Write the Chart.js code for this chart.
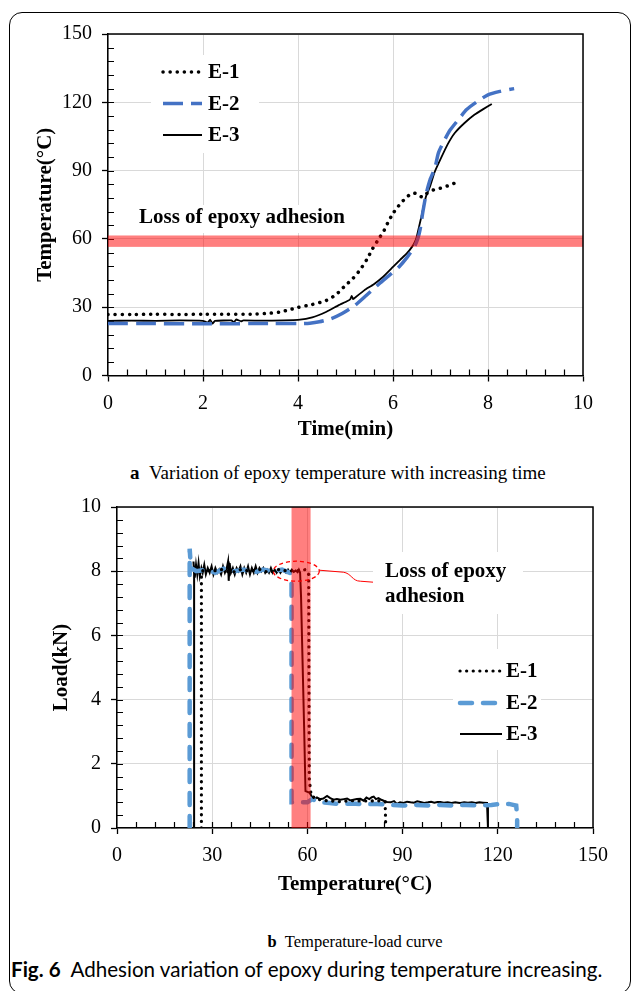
<!DOCTYPE html>
<html>
<head>
<meta charset="utf-8">
<script src="https://cdn.jsdelivr.net/npm/chart.js@4.4.0/dist/chart.umd.min.js"></script>
<style>
  html, body { margin: 0; padding: 0; background: #fff; }
  body { width: 632px; height: 991px; position: relative; overflow: hidden; }
  #frame { position: absolute; left: 9px; top: 12px; width: 622px; height: 982px; border: 1px solid #000; border-radius: 13px; box-sizing: border-box; }
  #w1 { position: absolute; left: 0; top: 0; width: 632px; height: 450px; }
  #w2 { position: absolute; left: 0; top: 485px; width: 632px; height: 415px; }
  .cap { position: absolute; font-family: "Liberation Serif", "Times New Roman", serif; font-size: 19px; line-height: 22px; color: #000; white-space: nowrap; }
  #capA { left: 130px; top: 462px; }
  #capB { left: 0; width: 710px; text-align: center; top: 931px; font-size: 16.5px; }
  #fig { position: absolute; left: 11px; top: 957px; font-family: Lato, "Open Sans", sans-serif; font-size: 20.6px; line-height: 24px; color: #000; white-space: nowrap; }
  #fig b { font-weight: 700; }
</style>
</head>
<body>
<div id="frame"></div>
<div id="w1"><canvas id="c1" width="632" height="450"></canvas></div>
<div id="w2"><canvas id="c2" width="632" height="415"></canvas></div>
<div class="cap" id="capA"><b>a</b>&nbsp;&nbsp;Variation of epoxy temperature with increasing time</div>
<div class="cap" id="capB"><b>b</b>&nbsp;&nbsp;Temperature-load curve</div>
<div id="fig"><b>Fig. 6</b>&nbsp;&nbsp;Adhesion variation of epoxy during temperature increasing.</div>
<script>
// ---------------- DATA: (a) temperature vs time ----------------
const seriesNames = ['E-1', 'E-2', 'E-3'];

const e1Time = [0, 0.5, 1.0, 1.5, 2.0, 2.5, 3.0, 3.3, 3.6, 3.8, 4.0, 4.3, 4.6, 4.8, 5.0, 5.15, 5.3, 5.45, 5.57, 5.7, 5.8, 5.9, 6.0, 6.1, 6.2, 6.3, 6.4, 6.5, 6.6, 6.7, 6.85, 7.0, 7.15, 7.3];
const e1Temp = [26.8, 26.8, 26.9, 26.8, 26.9, 26.9, 26.9, 27.2, 27.8, 28.8, 29.9, 31.2, 33.0, 35.5, 39.6, 42.5, 46.2, 51.0, 55.7, 60.0, 63.2, 67.5, 71.2, 74.0, 76.5, 78.5, 80.2, 79.8, 78.5, 79.8, 81.5, 82.3, 83.3, 84.5];

const e2Time = [0, 1, 2, 3, 3.5, 4.0, 4.25, 4.45, 4.7, 4.93, 5.2, 5.43, 5.71, 5.95, 6.13, 6.3, 6.45, 6.52, 6.57, 6.63, 6.7, 6.78, 6.88, 6.96, 7.1, 7.21, 7.4, 7.55, 7.75, 8.0, 8.25, 8.55];
const e2Temp = [22.8, 22.8, 22.7, 22.8, 22.8, 22.8, 23.0, 23.6, 25.0, 27.2, 30.8, 35.0, 40.3, 44.5, 47.8, 52.0, 56.5, 60.0, 64.0, 72.0, 80.0, 86.0, 91.0, 98.0, 104.0, 108.0, 113.0, 116.8, 120.0, 123.3, 124.8, 126.0];

const e3Time = [0, 0.5, 1.0, 1.5, 2.0, 2.1, 2.15, 2.2, 2.25, 2.6, 2.65, 2.7, 2.8, 2.85, 3.2, 3.7, 4.0, 4.3, 4.6, 4.85, 5.03, 5.1, 5.13, 5.16, 5.2, 5.4, 5.59, 5.8, 6.0, 6.15, 6.29, 6.4, 6.46, 6.5, 6.55, 6.6, 6.64, 6.7, 6.78, 6.87, 7.0, 7.15, 7.3, 7.5, 7.72, 7.9, 8.08];
const e3Temp = [24.0, 24.1, 24.0, 24.2, 24.0, 23.2, 24.5, 22.8, 24.0, 24.2, 23.3, 24.6, 23.8, 24.2, 24.1, 24.2, 24.4, 25.5, 28.0, 30.8, 32.6, 33.5, 35.0, 33.5, 34.2, 37.5, 40.0, 43.5, 47.7, 50.8, 53.6, 56.5, 58.7, 61.0, 65.5, 70.0, 74.0, 79.0, 83.0, 89.0, 95.0, 101.5, 106.5, 110.8, 114.6, 117.0, 119.3];

const timeTicks = [0, 2, 4, 6, 8, 10];
const tempTicks = [0, 30, 60, 90, 120, 150];
const lossBandTemp = [56.5, 61.5];   // red band, °C

// ---------------- DATA: (b) load vs temperature ----------------
const b1Temp = [26.6, 26.6, 26.6, 27.2, 30, 33, 36, 39, 42, 45, 48, 51, 54, 57, 59.5, 60.4, 60.5, 60.6, 61.2, 63, 66, 70, 74, 78, 82, 84.5, 84.6, 84.7];
const b1Load = [0, 4, 7.9, 8.05, 8.0, 8.05, 7.95, 8.05, 8.0, 8.05, 7.95, 8.05, 8.0, 8.02, 8.05, 7.9, 4.5, 1.5, 1.0, 0.9, 0.85, 0.82, 0.85, 0.84, 0.85, 0.82, 0.4, 0];

const b2Temp = [22.9, 22.9, 22.9, 23.3, 25, 28, 31, 34, 37, 40, 43, 46, 49, 52, 54.5, 55.0, 55.0, 55.0, 60.0, 61.5, 64, 67, 70, 74, 78, 82, 86, 90, 94, 98, 102, 106, 110, 114, 118, 121, 123.5, 125.8, 126.1, 126.1];
const b2Load = [0, 4, 8.7, 8.1, 8.0, 8.05, 7.95, 8.1, 8.0, 8.05, 7.95, 8.05, 8.0, 8.05, 7.95, 7.6, 4, 0.8, 0.8, 0.9, 0.8, 0.78, 0.75, 0.76, 0.74, 0.75, 0.72, 0.7, 0.72, 0.7, 0.72, 0.7, 0.72, 0.7, 0.72, 0.75, 0.75, 0.7, 0.35, 0];

const b3Temp = [24.3, 24.3, 24.3, 24.1, 24.5, 24.9, 25.3, 25.7, 26.1, 26.6,
  27.0, 27.5, 28.0, 28.6, 29.2, 29.8, 30.4, 31.0, 31.6, 32.2,
  32.8, 33.4, 34.0, 34.6, 35.0, 35.2, 35.5, 35.9, 36.5, 37.1,
  37.7, 38.3, 38.9, 39.5, 40.1, 40.7, 41.3, 41.9, 42.5, 43.1,
  43.7, 44.3, 44.9, 45.5, 46.1, 46.7, 47.3, 47.9, 48.5, 49.1,
  49.7, 50.3, 50.9, 51.5, 52.1, 52.7, 53.3, 53.9, 54.5, 55.1,
  55.7, 56.3, 56.9, 57.3, 57.7, 58.0, 58.4, 59.0, 59.4, 60.6,
  61.0, 61.9, 63.0, 64.0, 65.0, 66.2, 67.2, 68.3, 69.3, 70.4,
  71.5, 72.5, 73.5, 74.5, 75.6, 76.7, 77.7, 78.6, 79.5, 80.3,
  80.9, 81.6, 82.4, 83.3, 84.2, 85.1, 86.2, 87.3, 88.2, 89.2,
  90.3, 91.4, 92.5, 93.6, 94.6, 95.6, 96.8, 98.0, 99.0, 100.0,
  101.0, 101.9, 103.0, 104.2, 105.4, 106.6, 107.5, 108.2, 109.4, 110.6,
  111.8, 113.0, 114.2, 115.4, 116.6, 116.9, 116.9];
const b3Load = [0, 4.0, 7.9, 8.3, 7.8, 8.2, 7.9, 8.25, 7.85, 8.1,
  7.95, 8.2, 7.9, 8.1, 7.95, 8.15, 7.9, 8.1, 7.95, 8.05,
  7.9, 8.15, 7.95, 8.1, 8.3, 7.7, 8.25, 7.95, 8.1, 7.9,
  8.1, 8.0, 8.15, 7.9, 8.1, 7.95, 8.15, 7.9, 8.1, 7.95,
  8.15, 7.95, 8.1, 8.0, 8.1, 7.95, 8.05, 7.95, 8.1, 7.95,
  8.05, 7.95, 8.05, 7.95, 8.05, 8.0, 7.95, 8.05, 7.95, 8.05,
  7.98, 8.02, 7.97, 8.05, 7.95, 7.2, 5.5, 3.0, 1.15, 1.1,
  1.05, 0.87, 0.95, 0.9, 0.92, 1.0, 0.93, 0.88, 0.9, 0.88,
  0.9, 0.92, 0.86, 0.88, 0.9, 0.91, 0.85, 0.95, 0.9, 0.96,
  0.98, 0.9, 0.93, 0.88, 0.84, 0.81, 0.8, 0.84, 0.75, 0.8,
  0.78, 0.82, 0.8, 0.79, 0.83, 0.81, 0.78, 0.8, 0.82, 0.79,
  0.81, 0.81, 0.79, 0.8, 0.78, 0.8, 0.79, 0.78, 0.8, 0.79,
  0.8, 0.78, 0.8, 0.79, 0.78, 0.3, 0];

const loadTempTicks = [0, 30, 60, 90, 120, 150];
const loadTicks = [0, 2, 4, 6, 8, 10];
const lossBandLoadTemp = [55, 61];   // red band, °C
const lossCircle = [56.5, 8];        // centre of the dashed red ellipse (°C, kN)

// ---------------- helpers ----------------
const SERIF = '"Liberation Serif", "Times New Roman", serif';
const zip = (xs, ys) => xs.map((x, i) => ({ x: x, y: ys[i] }));

const minorTicks = {
  id: 'minorTicks',
  beforeDatasetsDraw(chart, args, o) {
    const { ctx, chartArea: a, scales: { x, y } } = chart;
    ctx.save();
    ctx.strokeStyle = '#000';
    ctx.lineWidth = 1.2;
    ctx.beginPath();
    const nx = Math.round((x.max - x.min) / o.xMinor);
    for (let i = 1; i < nx; i++) {
      const p = Math.round(x.getPixelForValue(x.min + i * o.xMinor)) + 0.5;
      ctx.moveTo(p, a.bottom); ctx.lineTo(p, a.bottom - 6);
    }
    const ny = Math.round((y.max - y.min) / o.yMinor);
    for (let i = 1; i < ny; i++) {
      const p = Math.round(y.getPixelForValue(y.min + i * o.yMinor)) + 0.5;
      ctx.moveTo(a.left, p); ctx.lineTo(a.left + 6, p);
    }
    ctx.stroke();
    ctx.restore();
  },
  afterDraw(chart) {
    const { ctx, chartArea: a } = chart;
    ctx.save();
    ctx.strokeStyle = '#000';
    ctx.lineWidth = 1.5;
    ctx.beginPath();
    ctx.moveTo(a.left, a.top); ctx.lineTo(a.right, a.top); ctx.lineTo(a.right, a.bottom);
    ctx.stroke();
    ctx.restore();
  }
};

const band = {
  id: 'band',
  afterDatasetsDraw(chart, args, o) {
    const { ctx, chartArea: a, scales } = chart;
    ctx.save();
    ctx.fillStyle = 'rgba(255,0,0,0.5)';
    if (o.axis === 'y') {
      const y0 = scales.y.getPixelForValue(o.range[1]);
      const y1 = scales.y.getPixelForValue(o.range[0]);
      ctx.fillRect(a.left, y0, a.right - a.left, y1 - y0);
    } else {
      const x0 = scales.x.getPixelForValue(o.range[0]);
      const x1 = scales.x.getPixelForValue(o.range[1]);
      ctx.fillRect(x0, a.top, x1 - x0, a.bottom - a.top);
    }
    ctx.restore();
  }
};

function drawLegend(chart, L) {
  const { ctx, chartArea: a } = chart;
  ctx.save();
  ctx.fillStyle = '#fff';
  ctx.fillRect(a.left + L.box[0], a.top + L.box[1], L.box[2], L.box[3]);
  chart.data.datasets.forEach((ds, i) => {
    const yy = a.top + L.ys[i];
    ctx.save();
    ctx.strokeStyle = ds.borderColor;
    ctx.lineWidth = ds.borderWidth;
    ctx.lineCap = ds.borderCapStyle || 'butt';
    ctx.setLineDash(ds.borderDash || []);
    ctx.beginPath();
    ctx.moveTo(a.left + L.x0, yy); ctx.lineTo(a.left + L.x1, yy);
    ctx.stroke();
    ctx.restore();
    ctx.fillStyle = '#000';
    ctx.font = 'bold 21px ' + SERIF;
    ctx.textBaseline = 'middle';
    ctx.textAlign = 'left';
    ctx.fillText(ds.label, a.left + L.tx, yy + 1);
  });
  ctx.restore();
}

function drawNote(chart, N) {
  const { ctx, chartArea: a } = chart;
  ctx.save();
  ctx.fillStyle = '#fff';
  ctx.fillRect(a.left + N.box[0], a.top + N.box[1], N.box[2], N.box[3]);
  ctx.fillStyle = '#000';
  ctx.font = 'bold 21px ' + SERIF;
  ctx.textBaseline = 'middle';
  ctx.textAlign = 'left';
  N.lines.forEach((t, i) => ctx.fillText(t, a.left + N.tx, a.top + N.ys[i]));
  ctx.restore();
}

function scaleCfg(min, max, step, title, titlePad, fixed, isX) {
  return {
    type: 'linear', min: min, max: max,
    ticks: { stepSize: step, color: '#000', font: { family: SERIF, size: 20 }, padding: 10, maxRotation: 0, autoSkip: false },
    grid: { color: '#d9d9d9', lineWidth: 1, drawTicks: true, tickLength: 6, tickColor: '#000', tickWidth: 1.3 },
    border: { display: true, color: '#000', width: 1.5 },
    title: { display: true, text: title, color: '#000', font: { family: SERIF, size: 21, weight: 'bold' }, padding: titlePad },
    afterFit(s) { if (isX) s.height = fixed; else s.width = fixed; }
  };
}

// ---------------- chart (a) ----------------
new Chart(document.getElementById('c1'), {
  type: 'scatter',
  data: {
    datasets: [
      { label: seriesNames[0], data: zip(e1Time, e1Temp), showLine: true, pointRadius: 0, borderColor: '#000', borderWidth: 3.5, borderDash: [0.1, 7], borderCapStyle: 'round', tension: 0.2 },
      { label: seriesNames[1], data: zip(e2Time, e2Temp), showLine: true, pointRadius: 0, borderColor: '#4472C4', borderWidth: 3.5, borderDash: [20, 8], tension: 0.2 },
      { label: seriesNames[2], data: zip(e3Time, e3Temp), showLine: true, pointRadius: 0, borderColor: '#000', borderWidth: 1.8, tension: 0.1 }
    ]
  },
  options: {
    responsive: false, animation: false, devicePixelRatio: 1,
    layout: { padding: { top: 34, right: 49, left: 0, bottom: 0 } },
    plugins: {
      legend: { display: false }, tooltip: { enabled: false },
      minorTicks: { xMinor: 0.4, yMinor: 6 },
      band: { axis: 'y', range: lossBandTemp }
    },
    scales: {
      x: scaleCfg(timeTicks[0], timeTicks[timeTicks.length - 1], timeTicks[1] - timeTicks[0], 'Time(min)', { top: 0, bottom: 8 }, 74.5, true),
      y: scaleCfg(tempTicks[0], tempTicks[tempTicks.length - 1], tempTicks[1] - tempTicks[0], 'Temperature(°C)', { top: 33, bottom: 0 }, 108, false)
    }
  },
  plugins: [minorTicks, band, {
    id: 'notesA',
    afterDraw(chart) {
      drawNote(chart, { box: [25, 171, 226, 28], tx: 31, ys: [184], lines: ['Loss of epoxy adhesion'] });
      drawLegend(chart, { box: [43, 21, 108, 98], x0: 55, x1: 94, tx: 100, ys: [38, 69.5, 101] });
    }
  }]
});

// ---------------- chart (b) ----------------
new Chart(document.getElementById('c2'), {
  type: 'scatter',
  data: {
    datasets: [
      { label: seriesNames[0], data: zip(b1Temp, b1Load), showLine: true, pointRadius: 0, borderColor: '#000', borderWidth: 3.2, borderDash: [0.1, 6.5], borderCapStyle: 'round' },
      { label: seriesNames[1], data: zip(b2Temp, b2Load), showLine: true, pointRadius: 0, borderColor: '#5B9BD5', borderWidth: 4.5, borderDash: [12, 11], borderCapStyle: 'round' },
      { label: seriesNames[2], data: zip(b3Temp, b3Load), showLine: true, pointRadius: 0, borderColor: '#000', borderWidth: 2 }
    ]
  },
  options: {
    responsive: false, animation: false, devicePixelRatio: 1,
    layout: { padding: { top: 18, right: 39, left: 0, bottom: 0 } },
    plugins: {
      legend: { display: false }, tooltip: { enabled: false },
      minorTicks: { xMinor: 6, yMinor: 0.4 },
      band: { axis: 'x', range: lossBandLoadTemp }
    },
    scales: {
      x: scaleCfg(loadTempTicks[0], loadTempTicks[loadTempTicks.length - 1], loadTempTicks[1] - loadTempTicks[0], 'Temperature(°C)', { top: 0, bottom: 3 }, 72, true),
      y: scaleCfg(loadTicks[0], loadTicks[loadTicks.length - 1], loadTicks[1] - loadTicks[0], 'Load(kN)', { top: 49, bottom: 0 }, 117, false)
    }
  },
  plugins: [minorTicks, band, {
    id: 'notesB',
    afterDraw(chart) {
      const { ctx, scales: { x, y } } = chart;
      const cx = x.getPixelForValue(lossCircle[0]);
      const cy = y.getPixelForValue(lossCircle[1]);
      ctx.save();
      ctx.strokeStyle = '#ff0000';
      ctx.lineWidth = 1.3;
      ctx.setLineDash([4, 3]);
      ctx.beginPath();
      ctx.ellipse(cx, cy, 23, 10, 0, 0, Math.PI * 2);
      ctx.stroke();
      ctx.setLineDash([]);
      ctx.lineWidth = 1;
      ctx.beginPath();
      ctx.moveTo(cx + 23, cy - 1);
      ctx.lineTo(cx + 47, cy + 1);
      ctx.bezierCurveTo(cx + 55, cy + 2, cx + 56, cy + 10, cx + 64, cy + 10);
      ctx.lineTo(cx + 77, cy + 11);
      ctx.stroke();
      ctx.restore();
      drawNote(chart, { box: [256, 45, 150, 62], tx: 268, ys: [65, 90], lines: ['Loss of epoxy', 'adhesion'] });
      drawLegend(chart, { box: [336, 142, 88, 101], x0: 343, x1: 385, tx: 389, ys: [164, 196, 227] });
    }
  }]
});
</script>
</body>
</html>
